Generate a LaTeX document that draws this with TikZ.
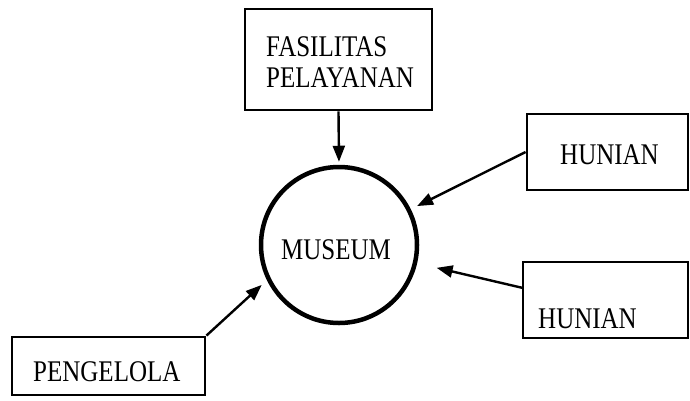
\documentclass[tikz,border=0pt]{standalone}
\usepackage{fontspec}
\setmainfont{Liberation Serif}
\usetikzlibrary{arrows.meta}
\newcommand{\tall}[1]{\scalebox{1}[1.2]{#1}}
\begin{document}
\begin{tikzpicture}[x=1pt,y=-1pt,
  box/.style={draw,line width=2.8pt,rectangle,inner sep=0pt},
  lbl/.style={inner sep=0pt,font=\fontsize{25}{31}\selectfont,anchor=west},
  arr/.style={line width=2.4pt,-{Triangle[length=16pt,width=12pt]}}]
\useasboundingbox (0,0) rectangle (690,400);
% boxes
\node[box,minimum width=187pt,minimum height=101pt] (fas) at (338.5,59.5) {};
\node[box,minimum width=161pt,minimum height=76pt] (hun1) at (607.5,152) {};
\node[box,minimum width=165pt,minimum height=76pt] (hun2) at (605.5,300) {};
\node[box,minimum width=193pt,minimum height=58pt] (peng) at (108.5,366) {};
% circle
\node[draw,circle,line width=4.5pt,minimum size=156pt,inner sep=0pt] (mus) at (339,245) {};
% texts
\node[lbl] (tfas1) at (266,47) {\tall{FASILITAS}};
\node[lbl] (tfas2) at (266,78) {\tall{PELAYANAN}};
\node[lbl] (thun1) at (560,155) {\tall{HUNIAN}};
\node[lbl] (thun2) at (538,319) {\tall{HUNIAN}};
\node[lbl] (tpeng) at (33,372) {\tall{PENGELOLA}};
\node[inner sep=0pt,font=\fontsize{25}{31}\selectfont] (tmus) at (336,250) {\tall{MUSEUM}};
% connectors
\coordinate (h2s) at (523,288);
\draw[arr,shorten >=3pt] (fas.south) -- (mus.north);
\draw[arr,shorten >=7pt] (hun1.west) -- (mus);
\draw[arr,shorten >=20pt] (h2s) -- (mus);
\draw[arr,shorten >=7pt] (peng.north east) -- (mus.206);
\end{tikzpicture}
\end{document}
